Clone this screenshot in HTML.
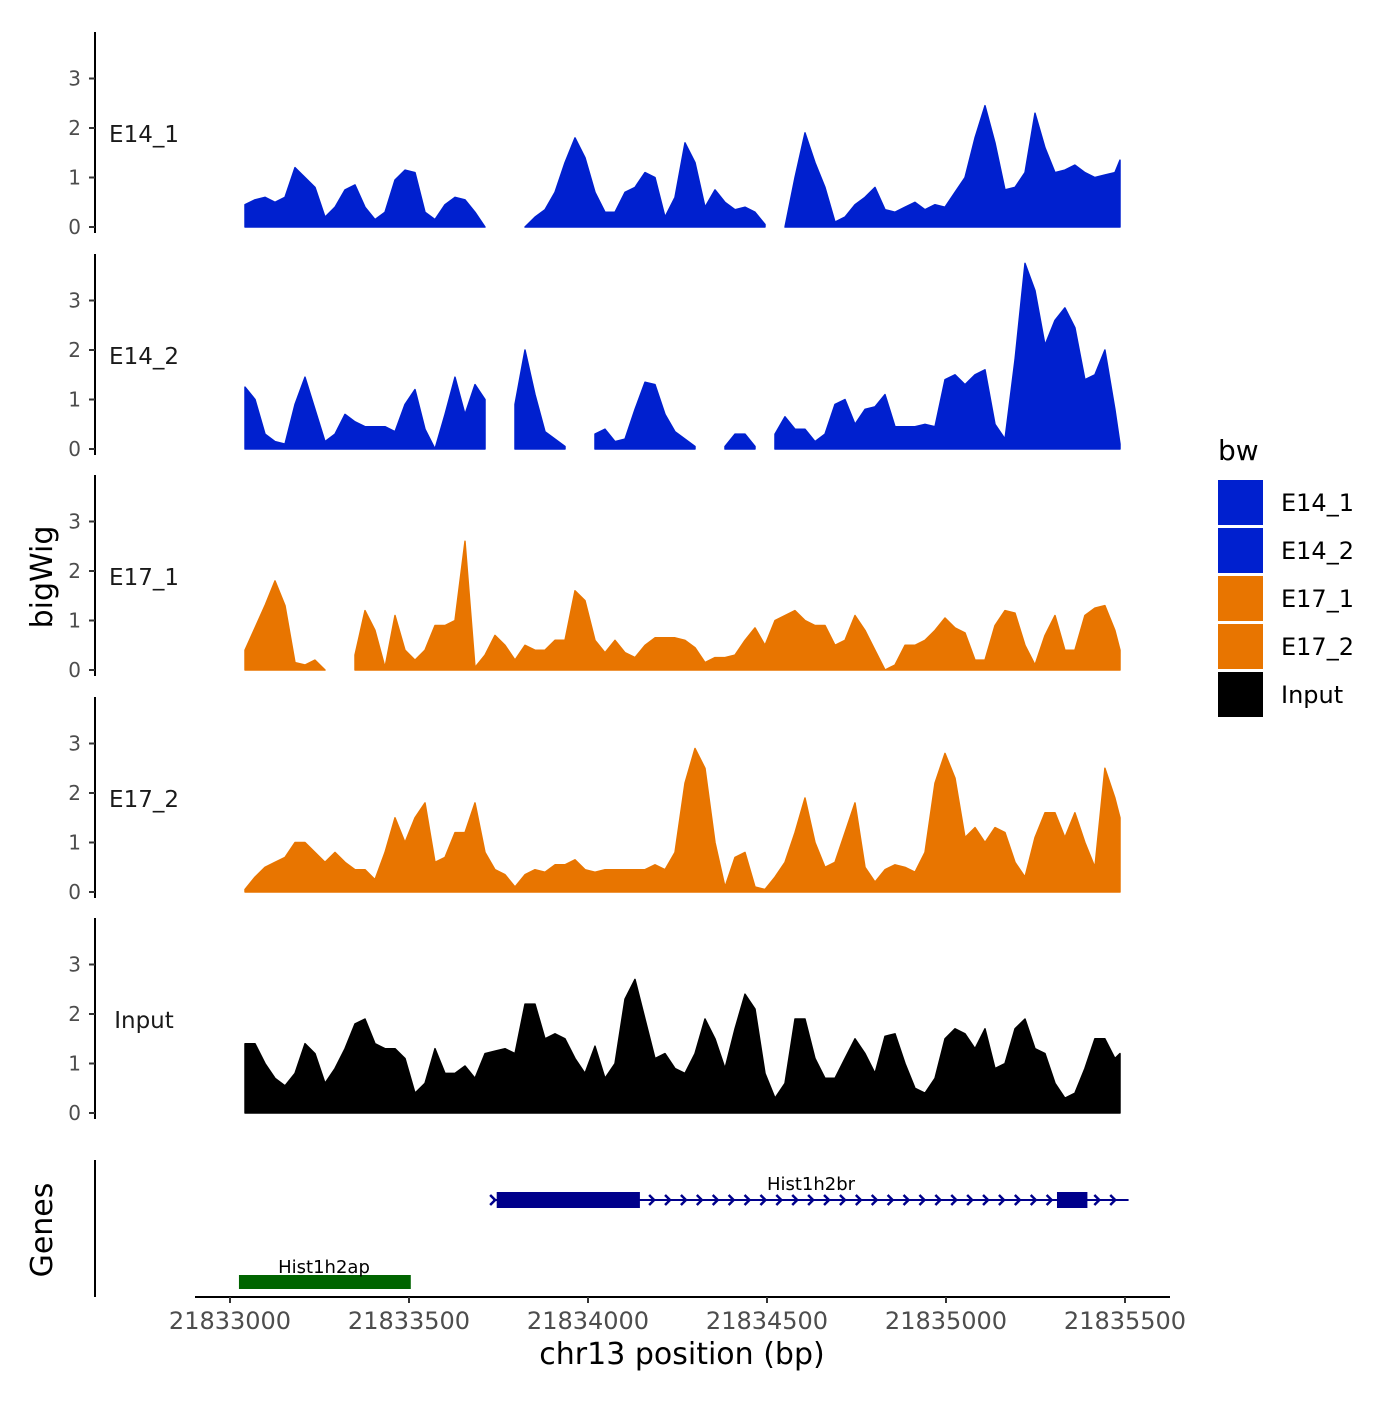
<!DOCTYPE html>
<html><head><meta charset="utf-8"><style>
body{margin:0;background:#fff;font-family:"Liberation Sans","DejaVu Sans",sans-serif}
svg text{font-family:"DejaVu Sans","Liberation Sans",sans-serif}
</style></head><body>
<svg id="chart" width="1400" height="1400" viewBox="0 0 1400 1400" xmlns="http://www.w3.org/2000/svg"></svg>
<script>
const trackNames = ["E14_1","E14_2","E17_1","E17_2","Input"];
const trackColors = ["#0020CF","#0020CF","#E87500","#E87500","#000000"];
const posStart = 21833042, posStep = 27.93;
const e14_1 = [0.45,0.55,0.6,0.5,0.6,1.2,1.0,0.8,0.2,0.4,0.75,0.85,0.4,0.15,0.3,0.95,1.15,1.1,0.3,0.15,0.45,0.6,0.55,0.3,0.0,null,null,null,0.0,0.2,0.35,0.7,1.3,1.8,1.4,0.7,0.3,0.3,0.7,0.8,1.1,1.0,0.2,0.6,1.7,1.3,0.4,0.75,0.5,0.35,0.4,0.3,0.05,null,0.0,1.0,1.9,1.3,0.8,0.1,0.2,0.45,0.6,0.8,0.35,0.3,0.4,0.5,0.35,0.45,0.4,0.7,1.0,1.8,2.45,1.7,0.75,0.8,1.1,2.3,1.6,1.1,1.15,1.25,1.1,1.0,1.05,1.1,1.35];
const e14_2 = [1.25,1.0,0.3,0.15,0.1,0.9,1.45,0.8,0.15,0.3,0.7,0.55,0.45,0.45,0.45,0.35,0.9,1.2,0.4,0.0,0.7,1.45,0.7,1.3,1.0,null,null,0.9,2.0,1.1,0.35,0.2,0.05,null,null,0.3,0.4,0.15,0.2,0.8,1.35,1.3,0.7,0.35,0.2,0.05,null,null,0.05,0.3,0.3,0.05,null,0.3,0.65,0.4,0.4,0.15,0.3,0.9,1.0,0.5,0.8,0.85,1.1,0.45,0.45,0.45,0.5,0.45,1.4,1.5,1.3,1.5,1.6,0.5,0.2,1.8,3.75,3.2,2.1,2.6,2.85,2.45,1.4,1.5,2.0,0.8,0.1];
const e17_1 = [0.4,0.85,1.3,1.8,1.3,0.15,0.1,0.2,0.0,null,null,0.3,1.2,0.8,0.05,1.1,0.4,0.2,0.4,0.9,0.9,1.0,2.6,0.05,0.3,0.7,0.5,0.2,0.5,0.4,0.4,0.6,0.6,1.6,1.4,0.6,0.35,0.6,0.35,0.25,0.5,0.65,0.65,0.65,0.6,0.45,0.15,0.25,0.25,0.3,0.6,0.85,0.5,1.0,1.1,1.2,1.0,0.9,0.9,0.5,0.6,1.1,0.8,0.4,0.0,0.1,0.5,0.5,0.6,0.8,1.05,0.85,0.75,0.2,0.2,0.9,1.2,1.15,0.5,0.1,0.7,1.1,0.4,0.4,1.1,1.25,1.3,0.8,0.4];
const e17_2 = [0.05,0.3,0.5,0.6,0.7,1.0,1.0,0.8,0.6,0.8,0.6,0.45,0.45,0.25,0.8,1.5,1.0,1.5,1.8,0.6,0.7,1.2,1.2,1.8,0.8,0.45,0.35,0.1,0.35,0.45,0.4,0.55,0.55,0.65,0.45,0.4,0.45,0.45,0.45,0.45,0.45,0.55,0.45,0.8,2.2,2.9,2.5,1.0,0.1,0.7,0.8,0.1,0.05,0.3,0.6,1.2,1.9,1.0,0.5,0.6,1.2,1.8,0.5,0.2,0.45,0.55,0.5,0.4,0.8,2.2,2.8,2.3,1.1,1.3,1.0,1.3,1.2,0.6,0.3,1.1,1.6,1.6,1.1,1.6,1.0,0.5,2.5,1.9,1.5];
const input = [1.4,1.4,1.0,0.7,0.55,0.8,1.4,1.2,0.6,0.9,1.3,1.8,1.9,1.4,1.3,1.3,1.1,0.4,0.6,1.3,0.8,0.8,0.95,0.7,1.2,1.25,1.3,1.2,2.2,2.2,1.5,1.6,1.5,1.1,0.8,1.35,0.7,1.0,2.3,2.7,1.9,1.1,1.2,0.9,0.8,1.2,1.9,1.5,0.9,1.7,2.4,2.1,0.8,0.3,0.6,1.9,1.9,1.1,0.7,0.7,1.1,1.5,1.2,0.8,1.55,1.6,1.0,0.5,0.4,0.7,1.5,1.7,1.6,1.3,1.7,0.9,1.0,1.7,1.9,1.3,1.2,0.6,0.3,0.4,0.9,1.5,1.5,1.1,1.2];
const trackValues = [e14_1,e14_2,e17_1,e17_2,input];
const yTicks = [0,1,2,3];
const xTicks = [21833000,21833500,21834000,21834500,21835000,21835500];
const geneNames = ["Hist1h2br","Hist1h2ap"];
const geneStarts = [21833735,21833025];
const geneEnds = [21835510,21833505];
const exonStarts = [21833745,21835310];
const exonEnds = [21834145,21835395];

const NS="http://www.w3.org/2000/svg";
const svg=document.getElementById('chart');
function el(t,a,txt){const e=document.createElementNS(NS,t);for(const k in a)e.setAttribute(k,a[k]);if(txt!==undefined)e.textContent=txt;svg.appendChild(e);return e;}
const xS=bp=>230+(bp-21833000)*0.358;
const baselines=[227,449,670,892,1113];
const yS=(i,v)=>baselines[i]-v*49.5;

trackValues.forEach((vals,i)=>{
  let ax=el('line',{x1:95,x2:95,y1:baselines[i]-195,y2:baselines[i]+6,stroke:'#000','stroke-width':2});
  
  
  yTicks.forEach(t=>{
    el('line',{x1:89,x2:95,y1:yS(i,t),y2:yS(i,t),stroke:'#333','stroke-width':2});
    const tl=el('text',{x:81,y:yS(i,t)+7,'text-anchor':'end','font-size':20,fill:'#4d4d4d'},t);
    
    
  });
  const lab=el('text',{x:144,y:baselines[i]-93+8,'text-anchor':'middle','font-size':23,fill:'#1a1a1a'},trackNames[i]);
  
  
  let segs=[],cur=[];
  vals.forEach((v,j)=>{const bp=Math.min(posStart+j*posStep,21835486);
    if(v===null){if(cur.length)segs.push(cur);cur=[];}else cur.push([xS(bp),yS(i,v)]);});
  if(cur.length)segs.push(cur);
  segs.forEach(s=>{
    let d='M'+s[0][0]+','+baselines[i]+' '+s.map(p=>'L'+p[0].toFixed(1)+','+p[1].toFixed(1)).join(' ')+' L'+s[s.length-1][0]+','+baselines[i]+'Z';
    const p=el('path',{d:d,fill:trackColors[i],stroke:trackColors[i],'stroke-width':1.5,'stroke-linejoin':'round'});
    
    
  });
});

let ga=el('line',{x1:95,x2:95,y1:1160,y2:1297,stroke:'#000','stroke-width':2});


const geneY=[1200,1282], geneCol=['#00008B','#006400'];
geneNames.forEach((g,i)=>{
  const x1=xS(geneStarts[i]),x2=xS(geneEnds[i]),y=geneY[i];
  const ln=el('line',{x1:x1,x2:x2,y1:y,y2:y,stroke:geneCol[i],'stroke-width':i?14:2});
  
  
  if(i===0){
    for(let x=x1;x<=x2;x+=15.9){
      const c=el('path',{d:`M${x-3},${y-5} L${x+2},${y} L${x-3},${y+5}`,stroke:geneCol[i],'stroke-width':2.5,fill:'none'});
      
      
    }
    exonStarts.forEach((s,k)=>{
      const r=el('rect',{x:xS(s),y:y-8,width:xS(exonEnds[k])-xS(s),height:16,fill:geneCol[i]});
      
      
    });
  }
  const t=el('text',{x:(i?324:811),y:y-(i?9:10),'text-anchor':'middle','font-size':18,fill:'#000'},g);
  
  
});

const xa=el('line',{x1:195,x2:1170,y1:1297,y2:1297,stroke:'#000','stroke-width':2});


xTicks.forEach(t=>{
  el('line',{x1:xS(t),x2:xS(t),y1:1297,y2:1303,stroke:'#333','stroke-width':2});
  const tl=el('text',{x:xS(t),y:1329,'text-anchor':'middle','font-size':24,fill:'#4d4d4d'},t);
  
  
});
const xt=el('text',{x:682,y:1364,'text-anchor':'middle','font-size':30,fill:'#000'},'chr13 position (bp)');


const yt=el('text',{x:0,y:0,'text-anchor':'middle','font-size':30,fill:'#000',transform:'translate(52,577) rotate(-90)'},'bigWig');


const gt=el('text',{x:0,y:0,'text-anchor':'middle','font-size':30,fill:'#000',transform:'translate(52,1230) rotate(-90)'},'Genes');



const lt=el('text',{x:1218,y:460,'font-size':28,fill:'#000'},'bw');


trackNames.forEach((n,i)=>{
  const r=el('rect',{x:1218,y:480+i*48,width:45,height:45,fill:trackColors[i]});
  
  
  const t=el('text',{x:1281,y:511+i*48,'font-size':24,fill:'#000'},n);
  
  
});
</script>
</body></html>
